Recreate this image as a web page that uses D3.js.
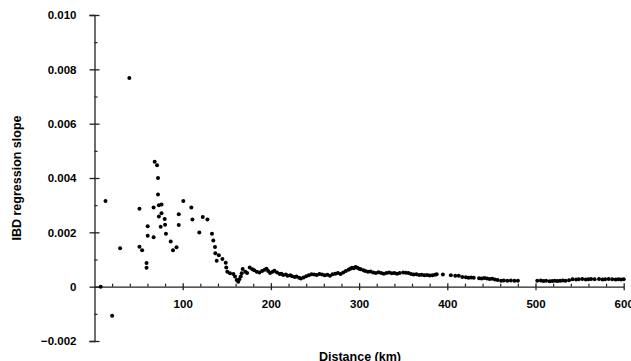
<!DOCTYPE html>
<html>
<head>
<meta charset="utf-8">
<script src="https://cdn.jsdelivr.net/npm/d3@7"></script>
<style>
  body { margin: 0; background: #fff; }
  text { font-family: "Liberation Sans", Arial, sans-serif; font-weight: bold; fill: #000; }
</style>
</head>
<body>
<div id="chart"></div>
<script>
// Distance (km) and IBD regression slope
const distance = [
    7, 12.5, 20, 29, 39.5, 51, 51, 54, 59, 59, 60.3, 60.3, 67, 67, 68.2, 70.9, 72, 72, 73, 76,
    76, 73, 79.6, 75, 80, 81, 86.4, 89, 93, 95.5, 95.5, 100.7, 109.8, 111, 118.8, 122.7, 128, 133.2, 134.7, 136.6,
    137, 138.5, 141, 145, 148.8, 149.4, 150.6, 153.6, 157.4, 159.3, 161.2, 163, 164.2, 165.8, 166.9,
    168, 171, 173, 176, 179, 181, 184, 187, 190, 193, 195, 197, 199,
    202, 204, 207, 210, 212, 214, 217, 219, 222, 224, 227, 229, 232, 234, 237, 240,
    243, 246, 249, 252, 255, 258, 261, 264, 267, 270, 273, 276, 279, 282,
    285, 288, 290, 292, 294, 296, 298, 300, 302, 305,
    307, 310, 313, 316, 319, 322, 325, 328, 331, 334, 337, 340, 343, 346, 350, 353, 356, 359, 362, 365,
    368, 371, 374, 377, 380, 383, 386, 388,
    395, 404, 409, 413, 417, 421, 424, 427, 430, 436, 439, 442, 445, 448, 451, 454, 457, 461, 464, 468,
    472, 476, 480,
    502, 506, 509, 512, 516, 519, 522, 525, 528, 531, 534, 538, 542, 546, 549, 553, 557, 560, 563, 567,
    572, 576, 579, 583, 587, 591, 594, 597, 600
]
const slope = [
    0, 0.00315, -0.00107, 0.00141, 0.00768, 0.00287, 0.00147, 0.00134, 0.00087, 0.0007, 0.00222, 0.00187, 0.00291, 0.00182, 0.0046, 0.00447, 0.004, 0.00339, 0.003, 0.00302,
    0.0027, 0.00258, 0.00249, 0.00221, 0.00228, 0.00195, 0.00166, 0.00134, 0.00145, 0.00267, 0.00227, 0.00315, 0.00291, 0.00247, 0.00199, 0.00256, 0.00247, 0.00195, 0.0017, 0.00146,
    0.00123, 0.00095, 0.00116, 0.00102, 0.00088, 0.00071, 0.00055, 0.00049, 0.00047, 0.00037, 0.00025, 0.00018, 0.00027, 0.00037, 0.00049,
    0.00065, 0.00055, 0.0005, 0.00071, 0.00064, 0.0006, 0.00055, 0.00052, 0.00058, 0.00062, 0.00066, 0.00058, 0.0005,
    0.00055, 0.00059, 0.00052, 0.00047, 0.00048, 0.00043, 0.00045, 0.0004, 0.00042, 0.00038, 0.00036, 0.00037, 0.00033, 0.0003, 0.00034, 0.00038,
    0.00042, 0.00046, 0.00045, 0.00043, 0.00047, 0.00045, 0.00042, 0.00044, 0.0004, 0.00046, 0.00048, 0.0005, 0.00047, 0.00052,
    0.00058, 0.00062, 0.00066, 0.0007, 0.00068, 0.00072, 0.0007, 0.00066, 0.00064, 0.0006,
    0.00058, 0.00055, 0.00056, 0.00052, 0.0005, 0.00053, 0.0005, 0.00048, 0.0005, 0.00052, 0.00049, 0.0005, 0.00048, 0.0005, 0.00052, 0.00051, 0.0005, 0.00047, 0.00045, 0.00046,
    0.00043, 0.00044, 0.00042, 0.00043, 0.00041, 0.00042, 0.00044, 0.00046,
    0.00045, 0.00042, 0.0004, 0.0004, 0.00036, 0.00035, 0.00033, 0.00034, 0.00033, 0.00031, 0.0003, 0.00032, 0.0003, 0.00028, 0.00029, 0.00026, 0.00025, 0.00022, 0.00023, 0.00022,
    0.00023, 0.00022, 0.00022,
    0.00022, 0.00023, 0.00021, 0.00022, 0.0002, 0.00021, 0.00022, 0.00021, 0.00022, 0.00023, 0.00022, 0.00024, 0.00027, 0.00026, 0.00027, 0.00028, 0.00026, 0.00027, 0.00028, 0.00027,
    0.00028, 0.00026, 0.00027, 0.00028, 0.00027, 0.00026, 0.00027, 0.00026, 0.00027
]

// tick values
const xMajorTicks = [100, 200, 300, 400, 500, 600]
const xMinorTicks = d3.range(20, 600, 20).filter(d => d % 100 !== 0)
const yMajorTicks = [-0.002, 0, 0.002, 0.004, 0.006, 0.008, 0.010]
const yMinorTicks = [-0.001, 0.001, 0.003, 0.005, 0.007, 0.009]

const dimensions = {
    width: 631,
    height: 361
}

const points = distance.map((d, i) => ({ x: d, y: slope[i] }))

const svg = d3.select('#chart')
    .append('svg')
    .attr('width', dimensions.width)
    .attr('height', dimensions.height)

const x = d3.scaleLinear()
    .domain([0, 600])
    .range([94.5, 623.7])

const y = d3.scaleLinear()
    .domain([-0.002, 0.010])
    .range([341, 15])

const axisColor = '#222'

// y axis: major ticks cross the line, minor ticks point inward
const yAxis = svg.append('g')
    .attr('transform', `translate(${x(0)},0)`)
    .call(d3.axisLeft(y)
        .tickValues(yMajorTicks)
        .tickSize(5)
        .tickPadding(13)
        .tickFormat(d => d === 0 ? '0' : d3.format('.3f')(d)))
yAxis.select('.domain').attr('stroke', axisColor).attr('stroke-width', 1.3)
yAxis.selectAll('.tick line').attr('x1', 5).attr('stroke', axisColor).attr('stroke-width', 1.3)
yAxis.selectAll('.tick text').attr('font-size', 11.5).attr('font-family', null)

const yMinor = svg.append('g')
    .attr('transform', `translate(${x(0)},0)`)
    .call(d3.axisRight(y).tickValues(yMinorTicks).tickSize(3).tickFormat(''))
yMinor.select('.domain').remove()
yMinor.selectAll('.tick line').attr('stroke', axisColor).attr('stroke-width', 1.2)

// x axis sits on y = 0
const xAxis = svg.append('g')
    .attr('transform', `translate(0,${y(0)})`)
    .call(d3.axisBottom(x)
        .tickValues(xMajorTicks)
        .tickSize(3.5)
        .tickSizeOuter(0)
        .tickPadding(10))
xAxis.select('.domain').attr('stroke', axisColor).attr('stroke-width', 1.3)
xAxis.selectAll('.tick line').attr('y1', -3.5).attr('stroke', axisColor).attr('stroke-width', 1.3)
xAxis.selectAll('.tick text').attr('font-size', 11.5).attr('font-family', null)

const xMinor = svg.append('g')
    .attr('transform', `translate(0,${y(0)})`)
    .call(d3.axisTop(x).tickValues(xMinorTicks).tickSize(3).tickFormat(''))
xMinor.select('.domain').remove()
xMinor.selectAll('.tick line').attr('stroke', axisColor).attr('stroke-width', 1.2)

// points
svg.append('g')
    .selectAll('circle')
    .data(points)
    .join('circle')
    .attr('cx', d => x(d.x))
    .attr('cy', d => y(d.y))
    .attr('r', 2)
    .attr('fill', '#000')

// axis titles
svg.append('text')
    .attr('x', 360)
    .attr('y', 360.5)
    .attr('text-anchor', 'middle')
    .attr('font-size', 12.5)
    .text('Distance (km)')

svg.append('text')
    .attr('transform', `translate(20.5,${(y(-0.002) + y(0.010)) / 2}) rotate(-90)`)
    .attr('text-anchor', 'middle')
    .attr('font-size', 12.5)
    .text('IBD regression slope')
</script>
</body>
</html>
